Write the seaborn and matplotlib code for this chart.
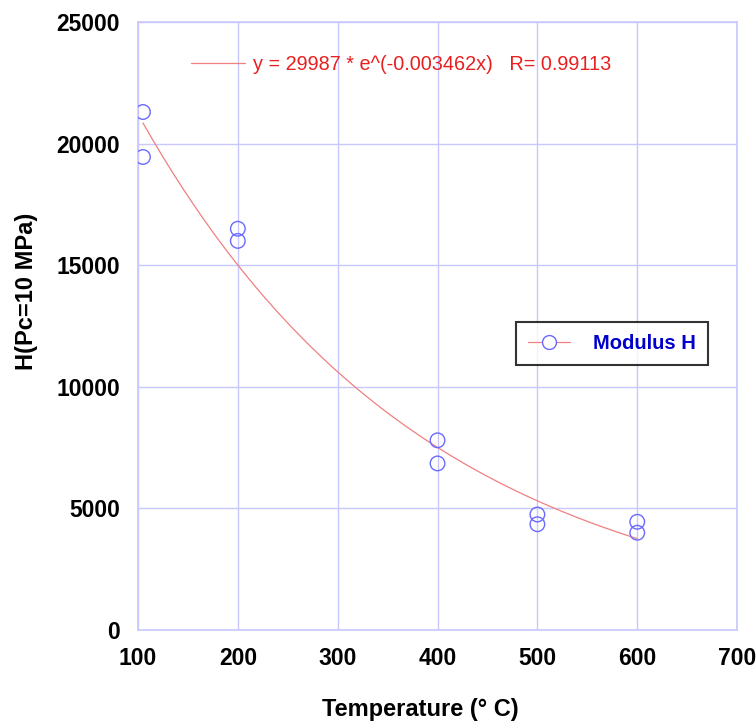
import numpy as np
import matplotlib
matplotlib.use("Agg")
import matplotlib.pyplot as plt
import seaborn as sns
import pandas as pd
from matplotlib.lines import Line2D

# measured points (temperature, modulus H)
temperature = [105, 105, 200, 200, 400, 400, 500, 500, 600, 600]
modulus_h = [21300, 19450, 16500, 16000, 7800, 6850, 4750, 4350, 4450, 4000]

# exponential fit given in the chart
fit_a = 29987
fit_b = -0.003462
fit_r = 0.99113

x_ticks = [100, 200, 300, 400, 500, 600, 700]
y_ticks = [0, 5000, 10000, 15000, 20000, 25000]

sns.set_style("white")
plt.rcParams['font.family'] = ['Liberation Sans', 'DejaVu Sans']

grid_col = '#c8c8ff'
blue = '#6a6aff'
red = '#f08080'

fig = plt.figure(figsize=(7.56, 7.22), dpi=100)
ax = fig.add_axes([0.1825, 0.1274, 0.7925, 0.8421])

xs = np.linspace(min(temperature), max(temperature), 200)
fit_df = pd.DataFrame({'x': xs, 'y': fit_a * np.exp(fit_b * xs)})
sns.lineplot(data=fit_df, x='x', y='y', ax=ax, color=red, linewidth=0.9)

df = pd.DataFrame({'T': temperature, 'H': modulus_h})
sns.scatterplot(data=df, x='T', y='H', ax=ax, marker='o', s=110,
                facecolors='none', edgecolor=blue, linewidth=1.0, zorder=3)

ax.set_xlim(100, 700)
ax.set_ylim(0, 25000)
ax.set_xticks(x_ticks)
ax.set_yticks(y_ticks)
ax.grid(True, color=grid_col, linewidth=1.0)
ax.set_axisbelow(True)
for sp in ax.spines.values():
    sp.set_color(grid_col)
    sp.set_linewidth(1.2)
ax.tick_params(axis='both', direction='in', length=0, labelsize=16.5,
               labelcolor='black')
ax.tick_params(axis='y', pad=13)
ax.tick_params(axis='x', pad=12)
for lab in ax.get_xticklabels() + ax.get_yticklabels():
    lab.set_fontweight('bold')

ax.set_xlabel('Temperature (° C)', fontsize=17, fontweight='bold',
              color='black', va='center')
ax.xaxis.set_label_coords(0.472, -0.130)
ax.set_ylabel('H(Pc=10 MPa)', fontsize=17, fontweight='bold',
              color='black', va='center')
ax.yaxis.set_label_coords(-0.186, 0.5576)

# fit equation with its line sample
ax.plot([153, 207], [23314, 23314], color=red, linewidth=0.9)
ax.text(215, 23250, 'y = %d * e^(%.6fx)   R= %.5f' % (fit_a, fit_b, fit_r),
        color='#e82020', fontsize=14.3, va='center', ha='left')

handle = Line2D([0], [0], color=red, linewidth=0.9, marker='o', markersize=10,
                markerfacecolor='white', markeredgecolor=blue)
leg = ax.legend([handle], ['Modulus H'], loc='upper left',
                bbox_to_anchor=(0.631, 0.5066), frameon=True, fancybox=False,
                borderpad=0.6, borderaxespad=0, handlelength=2.1,
                handletextpad=1.1, prop={'weight': 'bold', 'size': 14.5})
leg.get_frame().set_edgecolor('black')
leg.get_frame().set_linewidth(1.5)
for t in leg.get_texts():
    t.set_color('#0000cc')

fig.savefig('out.png', dpi=100)
